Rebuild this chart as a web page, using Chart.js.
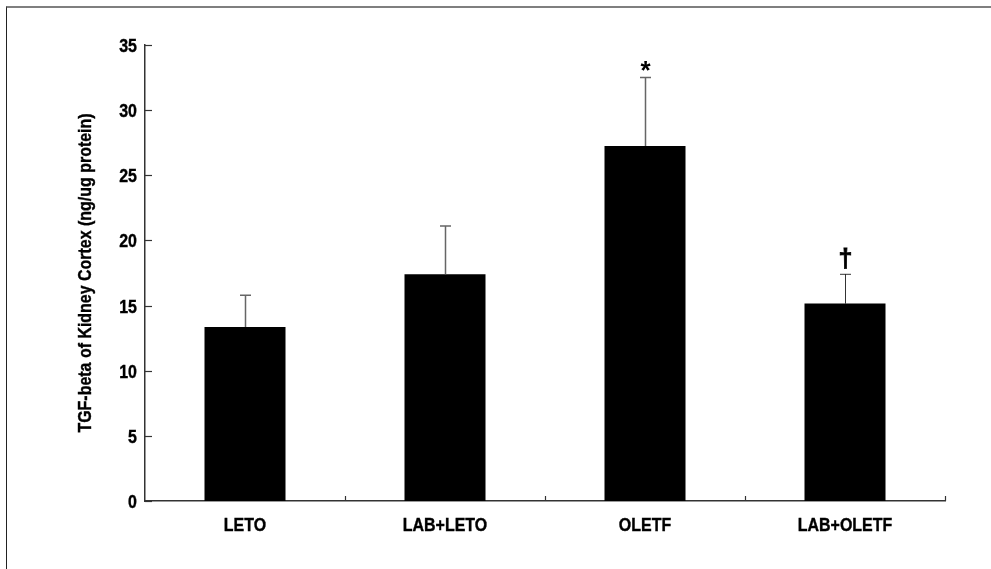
<!DOCTYPE html>
<html>
<head>
<meta charset="utf-8">
<script src="https://cdn.jsdelivr.net/npm/chart.js@4/dist/chart.umd.min.js"></script>
<style>
  html, body { margin: 0; padding: 0; background: #fff; }
  #wrap { position: relative; width: 991px; height: 569px; overflow: hidden; }
  #frame { position: absolute; left: 6px; top: 6px; width: 1000px; height: 600px;
           border-top: 2px solid #7f7f7f; border-left: 1px solid #222; pointer-events: none; }
  canvas { position: absolute; left: 0; top: 0; }
</style>
</head>
<body>
<div id="wrap">
  <canvas id="c" width="991" height="569"></canvas>
  <div id="frame"></div>
</div>
<script>
// Groups and measured TGF-beta levels (mean and upper error)
const groups = ["LETO", "LAB+LETO", "OLETF", "LAB+OLETF"];
const means = [13.35, 17.4, 27.25, 15.15];
const errors = [2.45, 3.7, 5.25, 2.25];
const marks = ["", "", "*", "\u2020"];
const yTicks = [0, 5, 10, 15, 20, 25, 30, 35];
const yTitle = "TGF-beta of Kidney Cortex (ng/ug protein)";

const FONT = "'Liberation Sans', Arial, sans-serif";
const LABEL_FONT = 'bold 19px ' + FONT;
const SQUEEZE = 0.84;   // narrow, tall lettering

// draw text horizontally condensed around its anchor point
function narrowText(ctx, text, x, y, align, rot) {
  ctx.save();
  ctx.translate(x, y);
  if (rot) ctx.rotate(rot);
  ctx.scale(SQUEEZE, 1);
  ctx.font = LABEL_FONT;
  ctx.fillStyle = '#000';
  ctx.strokeStyle = '#000';
  ctx.lineWidth = 0.4;
  ctx.textAlign = align;
  ctx.textBaseline = 'middle';
  ctx.fillText(text, 0, 0);
  ctx.strokeText(text, 0, 0);
  ctx.restore();
}

// Axis labels, inward tick marks, error bars and significance marks
const extras = {
  id: 'extras',
  afterDatasetsDraw(chart) {
    const ctx = chart.ctx;
    const x = chart.scales.x, y = chart.scales.y;
    const area = chart.chartArea;
    ctx.save();
    // y ticks pointing into the plot, with their labels
    ctx.strokeStyle = '#333';
    ctx.lineWidth = 1.2;
    yTicks.forEach(v => {
      const py = Math.round(y.getPixelForValue(v)) + 0.5;
      ctx.beginPath();
      ctx.moveTo(area.left, py);
      ctx.lineTo(area.left + 7, py);
      ctx.stroke();
      narrowText(ctx, String(v), area.left - 8, py + 1, 'right');
    });
    // x ticks at category boundaries, category names below
    ctx.strokeStyle = '#333';
    ctx.lineWidth = 1.2;
    for (let i = 0; i < groups.length; i++) {
      const px = Math.round(x.getPixelForValue(i + 0.5)) + 0.5;
      ctx.beginPath();
      ctx.moveTo(px, area.bottom);
      ctx.lineTo(px, area.bottom - 5);
      ctx.stroke();
      narrowText(ctx, groups[i], x.getPixelForValue(i), area.bottom + 25, 'center');
    }
    // y axis title
    narrowText(ctx, yTitle, area.left - 59, (area.top + area.bottom) / 2, 'center', -Math.PI / 2);
    // error bars (upper only)
    ctx.strokeStyle = '#666';
    ctx.lineWidth = 1.5;
    means.forEach((m, i) => {
      const px = Math.round(x.getPixelForValue(i)) + 0.5;
      const yTop = y.getPixelForValue(m + errors[i]);
      const yBar = y.getPixelForValue(m);
      ctx.beginPath();
      ctx.moveTo(px, yBar);
      ctx.lineTo(px, yTop);
      ctx.moveTo(px - 5.5, yTop);
      ctx.lineTo(px + 5.5, yTop);
      ctx.stroke();
      if (marks[i]) {
        ctx.fillStyle = '#000';
        ctx.strokeStyle = '#000';
        ctx.lineWidth = 0.8;
        ctx.textAlign = 'center';
        ctx.textBaseline = 'bottom';
        if (marks[i] === '*') {
          ctx.font = 'bold 26px ' + FONT;
          ctx.fillText(marks[i], px, yTop + 7);
        } else {
          ctx.font = 'bold 25px ' + FONT;
          ctx.fillText(marks[i], px, yTop - 2);
          ctx.strokeText(marks[i], px, yTop - 2);
        }
      }
    });
    ctx.restore();
  }
};

new Chart(document.getElementById('c'), {
  type: 'bar',
  data: {
    labels: groups,
    datasets: [{
      data: means,
      backgroundColor: '#000',
      borderWidth: 0,
      barPercentage: 0.405,
      categoryPercentage: 1.0
    }]
  },
  options: {
    responsive: false,
    devicePixelRatio: 1,
    animation: false,
    layout: { padding: { top: 45, right: 46, left: 0, bottom: 0 } },
    plugins: { legend: { display: false }, tooltip: { enabled: false } },
    scales: {
      x: {
        grid: { display: false, drawTicks: false },
        border: { display: true, color: '#333', width: 1.5 },
        ticks: { display: false },
        afterFit(scale) { scale.height = 68; }
      },
      y: {
        min: 0, max: 35,
        grid: { display: false, drawTicks: false },
        border: { display: true, color: '#333', width: 1.5 },
        ticks: { display: false, stepSize: 5 },
        afterBuildTicks(scale) { scale.ticks = yTicks.map(v => ({ value: v })); },
        afterFit(scale) { scale.width = 145; }
      }
    }
  },
  plugins: [extras]
});
</script>
</body>
</html>
